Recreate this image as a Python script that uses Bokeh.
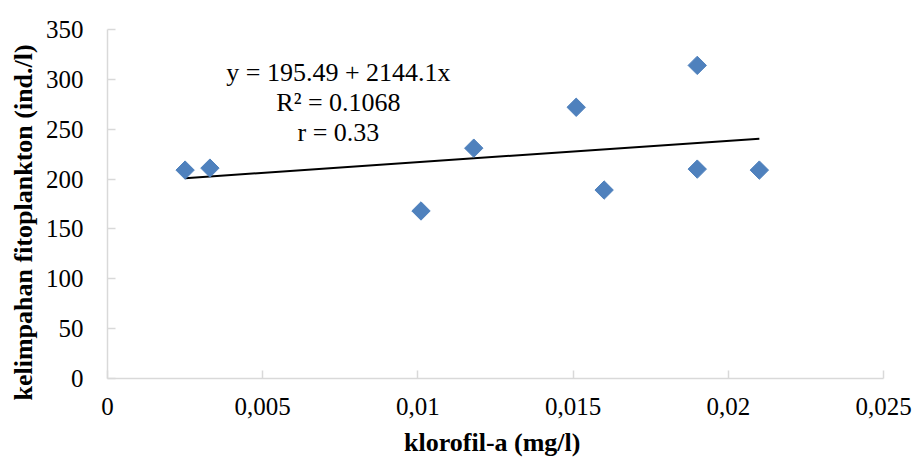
from bokeh.plotting import figure
from bokeh.models import Range1d, FixedTicker, Label, Title
from bokeh.embed import file_html
from bokeh.resources import INLINE
import numpy as np

# ---- data ----
klorofil = [0.0025, 0.0033, 0.0101, 0.0118, 0.0151, 0.0160, 0.0190, 0.0190, 0.0210]
kelimpahan = [209, 211, 168, 231, 272, 189, 314, 210, 209]
intercept = 195.49
slope = 2144.1
x_ticks = [0, 0.005, 0.01, 0.015, 0.02, 0.025]
x_tick_labels = ["0", "0,005", "0,01", "0,015", "0,02", "0,025"]
y_ticks = [0, 50, 100, 150, 200, 250, 300, 350]
eq_lines = ["y = 195.49 + 2144.1x", "R\u00b2 = 0.1068", "r = 0.33"]
x_title = "klorofil-a  (mg/l)"
y_title = "kelimpahan fitoplankton (ind./l)"

FONT = "Liberation Serif"
BLUE = "#4f81bd"
AXIS = "#d9d9d9"

p = figure(width=914, height=459, output_backend="svg", toolbar_location=None,
           x_range=Range1d(0, 0.025), y_range=Range1d(0, 350),
           min_border_left=107, min_border_right=31, min_border_top=29,
           min_border_bottom=81)
p.outline_line_color = None
p.grid.visible = False
p.background_fill_color = "white"
p.border_fill_color = "white"

# trend line
tx = np.array([min(klorofil), max(klorofil)])
ty = intercept + slope * tx
p.line(tx, ty, line_color="black", line_width=2)

# points
p.scatter(klorofil, kelimpahan, marker="square", angle=np.pi / 4, size=13,
          fill_color=BLUE, line_color=BLUE)

# axes
xa = p.xaxis[0]
ya = p.yaxis[0]
xa.ticker = FixedTicker(ticks=x_ticks)
xa.major_label_overrides = {t: l for t, l in zip(x_ticks, x_tick_labels)}
ya.ticker = FixedTicker(ticks=y_ticks)
for ax in (xa, ya):
    ax.axis_line_color = AXIS
    ax.axis_line_width = 1.5
    ax.major_tick_line_color = AXIS
    ax.major_tick_line_width = 1.5
    ax.major_tick_in = 8
    ax.major_tick_out = 0
    ax.minor_tick_line_color = None
    ax.major_label_text_font = FONT
    ax.major_label_text_font_size = "25px"
    ax.major_label_text_color = "black"
xa.major_label_standoff = 19
ya.major_label_standoff = 24

xa.axis_label = x_title
xa.axis_label_text_font = FONT
xa.axis_label_text_font_size = "26px"
xa.axis_label_text_font_style = "bold"
xa.axis_label_text_color = "black"
xa.axis_label_standoff = 10

# y title as a side title, shifted down like the reference
p.add_layout(Title(text=y_title, align="left", offset=-22, standoff=10,
                   text_font=FONT, text_font_size="26px",
                   text_font_style="bold", text_color="black"), "left")

# equation annotation
eq_x = 0.00744
eq_y = [307, 277, 247]
for txt, yy in zip(eq_lines, eq_y):
    p.add_layout(Label(x=eq_x, y=yy, text=txt, text_align="center",
                       text_baseline="middle", text_font=FONT,
                       text_font_size="26px", text_color="black"))

open("out.html", "w").write(file_html(p, INLINE))
